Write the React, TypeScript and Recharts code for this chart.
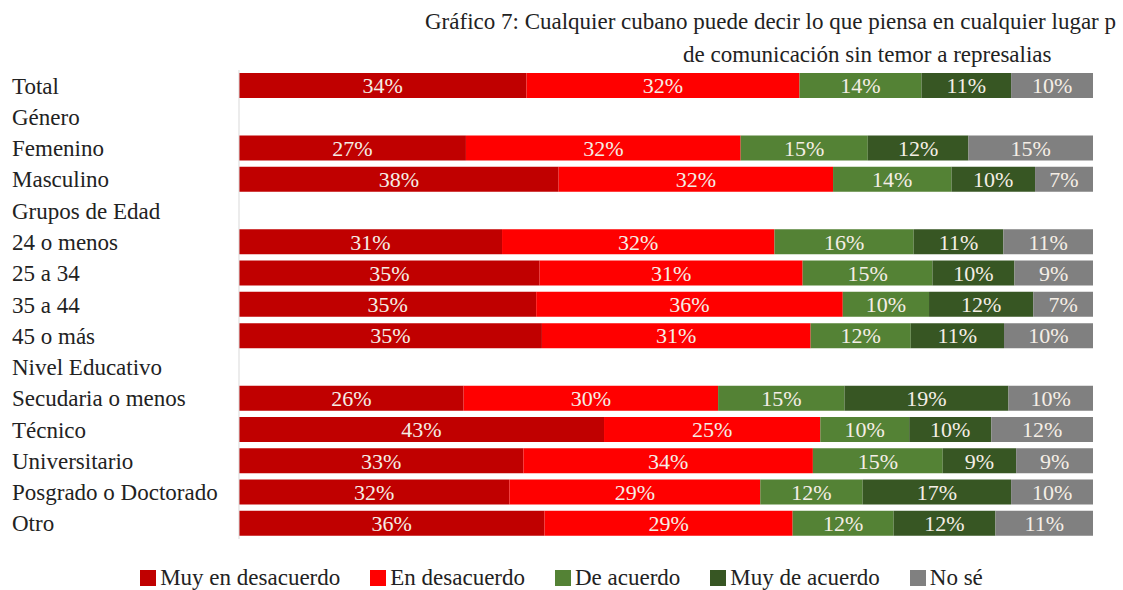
import React from 'react';
import { Bar, BarChart, LabelList, Legend, XAxis, YAxis } from 'recharts';

const categories = [
  'Total',
  'Género',
  'Femenino',
  'Masculino',
  'Grupos de Edad',
  '24 o menos',
  '25 a 34',
  '35 a 44',
  '45 o más',
  'Nivel Educativo',
  'Secudaria o menos',
  'Técnico',
  'Universitario',
  'Posgrado o Doctorado',
  'Otro',
];

// percentages per answer, null for the group header rows
const muyEnDesacuerdo = [33.7, null, 26.6, 37.5, null, 30.8, 35.2, 34.8, 35.4, null, 26.3, 42.7, 33.3, 31.7, 35.7];
const enDesacuerdo = [32.0, null, 32.2, 32.2, null, 31.9, 30.8, 35.9, 31.4, null, 29.8, 25.3, 33.9, 29.4, 29.0];
const deAcuerdo = [14.3, null, 14.9, 13.9, null, 16.3, 15.2, 10.1, 11.7, null, 14.8, 10.4, 15.2, 12.0, 11.8];
const muyDeAcuerdo = [10.5, null, 11.8, 9.8, null, 10.5, 9.6, 12.2, 10.9, null, 19.2, 9.6, 8.6, 17.4, 11.9];
const noSe = [9.6, null, 14.6, 6.8, null, 10.5, 9.2, 7.0, 10.4, null, 9.9, 11.9, 9.0, 9.6, 11.4];

const series = [
  { key: 'muyDes', name: 'Muy en desacuerdo', color: '#C00000' },
  { key: 'des', name: 'En desacuerdo', color: '#FF0000' },
  { key: 'de', name: 'De acuerdo', color: '#548235' },
  { key: 'muyDe', name: 'Muy de acuerdo', color: '#375623' },
  { key: 'noSe', name: 'No sé', color: '#808080' },
];

const data = categories.map((name, i) => ({
  name,
  muyDes: muyEnDesacuerdo[i],
  des: enDesacuerdo[i],
  de: deAcuerdo[i],
  muyDe: muyDeAcuerdo[i],
  noSe: noSe[i],
}));

const FONT = "'Liberation Serif', 'Times New Roman', serif";

const CategoryTick = (props: any) => {
  const { y, payload } = props;
  return (
    <text x={12} y={y} dy="0.35em" fontFamily={FONT} fontSize={23} fill="#222">
      {payload.value}
    </text>
  );
};

const LegendContent = () => (
  <div
    style={{
      display: 'flex',
      justifyContent: 'center',
      alignItems: 'center',
      fontFamily: FONT,
      fontSize: 23,
      color: '#222',
      lineHeight: '24px',
    }}
  >
    {series.map((s, i) => (
      <div
        key={s.key}
        style={{ display: 'flex', alignItems: 'center', marginRight: i < series.length - 1 ? 30 : 0 }}
      >
        <span style={{ width: 16, height: 16, background: s.color, marginRight: 4, display: 'inline-block' }} />
        <span>{s.name}</span>
      </div>
    ))}
  </div>
);

const fmt = (v: any) => (v == null ? '' : `${Math.round(v)}%`);

const titleStyle: React.CSSProperties = {
  position: 'absolute',
  whiteSpace: 'nowrap',
  fontFamily: FONT,
  fontSize: 23,
  color: '#222',
};

const App = () => {
  return (
    <div style={{ position: 'absolute', left: 0, top: 0, width: 1123, height: 590, overflow: 'hidden', background: '#fff' }}>
      <div style={{ ...titleStyle, left: 425, top: 9 }}>
        Gráfico 7: Cualquier cubano puede decir lo que piensa en cualquier lugar p
      </div>
      <div style={{ ...titleStyle, left: 683, top: 42 }}>de comunicación sin temor a represalias</div>
      <BarChart
        width={1123}
        height={590}
        data={data}
        layout="vertical"
        stackOffset="expand"
        margin={{ top: 70, right: 30, bottom: 51, left: 0 }}
        style={{ position: 'absolute', left: 0, top: 0 }}
      >
        <XAxis type="number" domain={[0, 1]} hide />
        <YAxis
          type="category"
          dataKey="name"
          width={239}
          interval={0}
          tickLine={false}
          axisLine={{ stroke: '#d9d9d9' }}
          tick={<CategoryTick />}
        />
        <Legend
          layout="horizontal"
          verticalAlign="middle"
          align="center"
          wrapperStyle={{ top: 566, left: 0, width: 1123 }}
          content={<LegendContent />}
        />
        {series.map((s) => (
          <Bar key={s.key} dataKey={s.key} name={s.name} stackId="a" fill={s.color} barSize={25} isAnimationActive={false}>
            <LabelList
              dataKey={s.key}
              position="center"
              formatter={fmt}
              fill="#f5eee6"
              fontFamily={FONT}
              fontSize={22}
            />
          </Bar>
        ))}
      </BarChart>
    </div>
  );
};

export default App;
